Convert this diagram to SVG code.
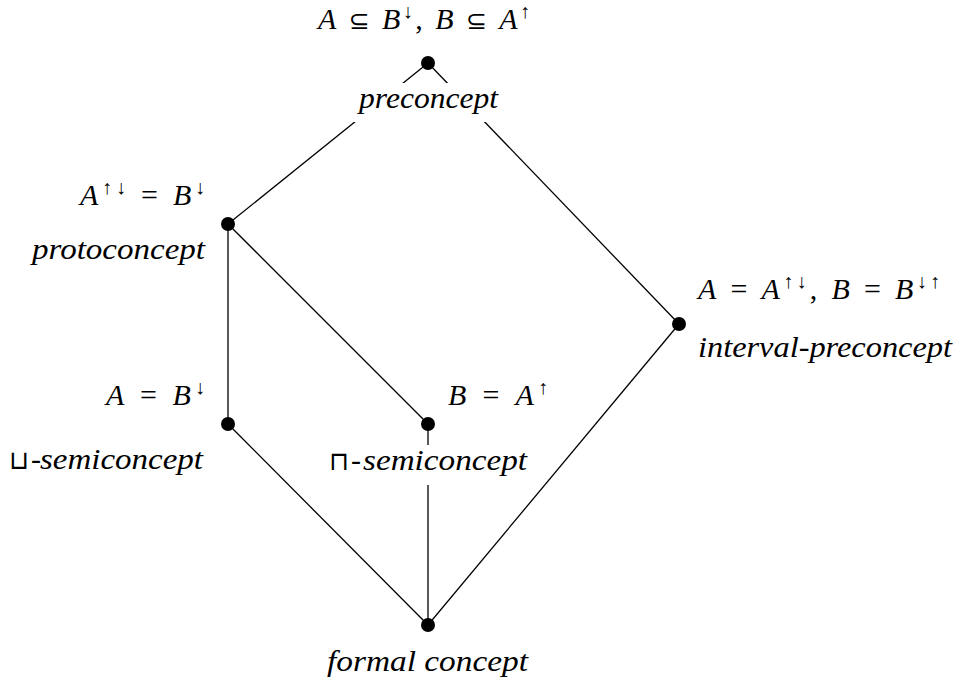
<svg xmlns="http://www.w3.org/2000/svg" width="960" height="687" viewBox="0 0 960 687">
<style>
.edge{stroke:#000;stroke-width:1.3;fill:none}
.dot{fill:#000}
.v{font-style:italic}
.bg{fill:#fff}
</style>
<g id="connectors">
<line class="edge" x1="428" y1="63" x2="228" y2="224"/>
<line class="edge" x1="428" y1="63" x2="679" y2="324"/>
<line class="edge" x1="228" y1="224" x2="228" y2="424"/>
<line class="edge" x1="228" y1="224" x2="428" y2="424"/>
<line class="edge" x1="428" y1="424" x2="428" y2="625"/>
<line class="edge" x1="228" y1="424" x2="428" y2="625"/>
<line class="edge" x1="679" y1="324" x2="428" y2="625"/>
</g>
<g font-family="Liberation Serif" font-size="30" fill="#000">
<g id="preconcept">
<circle class="dot" cx="428" cy="63" r="7"/>
<text x="318" y="29" textLength="212" lengthAdjust="spacing"><tspan class="v">A</tspan> <tspan font-family="DejaVu Sans" font-size="25">⊆</tspan> <tspan class="v">B</tspan><tspan font-size="20" dy="-11">↓</tspan><tspan dy="11">, </tspan><tspan class="v">B</tspan> <tspan font-family="DejaVu Sans" font-size="25">⊆</tspan> <tspan class="v">A</tspan><tspan font-size="20" dy="-11">↑</tspan></text>
<rect class="bg" x="350" y="83" width="155" height="39"/>
<text x="359" y="108" font-style="italic" textLength="139" lengthAdjust="spacingAndGlyphs">preconcept</text>
</g>
<g id="protoconcept">
<circle class="dot" cx="228" cy="224" r="7"/>
<text x="80" y="205" textLength="125" lengthAdjust="spacing"><tspan class="v">A</tspan><tspan font-size="20" dy="-11">↑↓</tspan><tspan dy="11"> = </tspan><tspan class="v">B</tspan><tspan font-size="20" dy="-11">↓</tspan></text>
<text x="32" y="259" font-style="italic" textLength="173" lengthAdjust="spacingAndGlyphs">protoconcept</text>
</g>
<g id="interval-preconcept">
<circle class="dot" cx="679" cy="324" r="7"/>
<text x="698" y="299" textLength="242" lengthAdjust="spacing"><tspan class="v">A</tspan> = <tspan class="v">A</tspan><tspan font-size="20" dy="-11">↑↓</tspan><tspan dy="11">, </tspan><tspan class="v">B</tspan> = <tspan class="v">B</tspan><tspan font-size="20" dy="-11">↓↑</tspan></text>
<text x="698" y="357" font-style="italic" textLength="254" lengthAdjust="spacingAndGlyphs">interval-preconcept</text>
</g>
<g id="join-semiconcept">
<circle class="dot" cx="228" cy="424" r="7"/>
<text x="106" y="405" textLength="99" lengthAdjust="spacing"><tspan class="v">A</tspan> = <tspan class="v">B</tspan><tspan font-size="20" dy="-11">↓</tspan></text>
<text y="469"><tspan font-family="DejaVu Sans" font-size="26" x="9">⊔</tspan><tspan x="31">-</tspan><tspan x="40" font-style="italic" textLength="163" lengthAdjust="spacingAndGlyphs">semiconcept</tspan></text>
</g>
<g id="meet-semiconcept">
<circle class="dot" cx="428" cy="424" r="7"/>
<text x="448" y="405" textLength="100" lengthAdjust="spacing"><tspan class="v">B</tspan> = <tspan class="v">A</tspan><tspan font-size="20" dy="-11">↑</tspan></text>
<rect class="bg" x="326" y="445" width="206" height="40"/>
<text y="470"><tspan font-family="DejaVu Sans" font-size="26" x="329">⊓</tspan><tspan x="351">-</tspan><tspan x="363" font-style="italic" textLength="164" lengthAdjust="spacingAndGlyphs">semiconcept</tspan></text>
</g>
<g id="formal-concept">
<circle class="dot" cx="428" cy="625" r="7"/>
<text x="327" y="671" font-style="italic" textLength="201" lengthAdjust="spacingAndGlyphs">formal concept</text>
</g>
</g>
</svg>
